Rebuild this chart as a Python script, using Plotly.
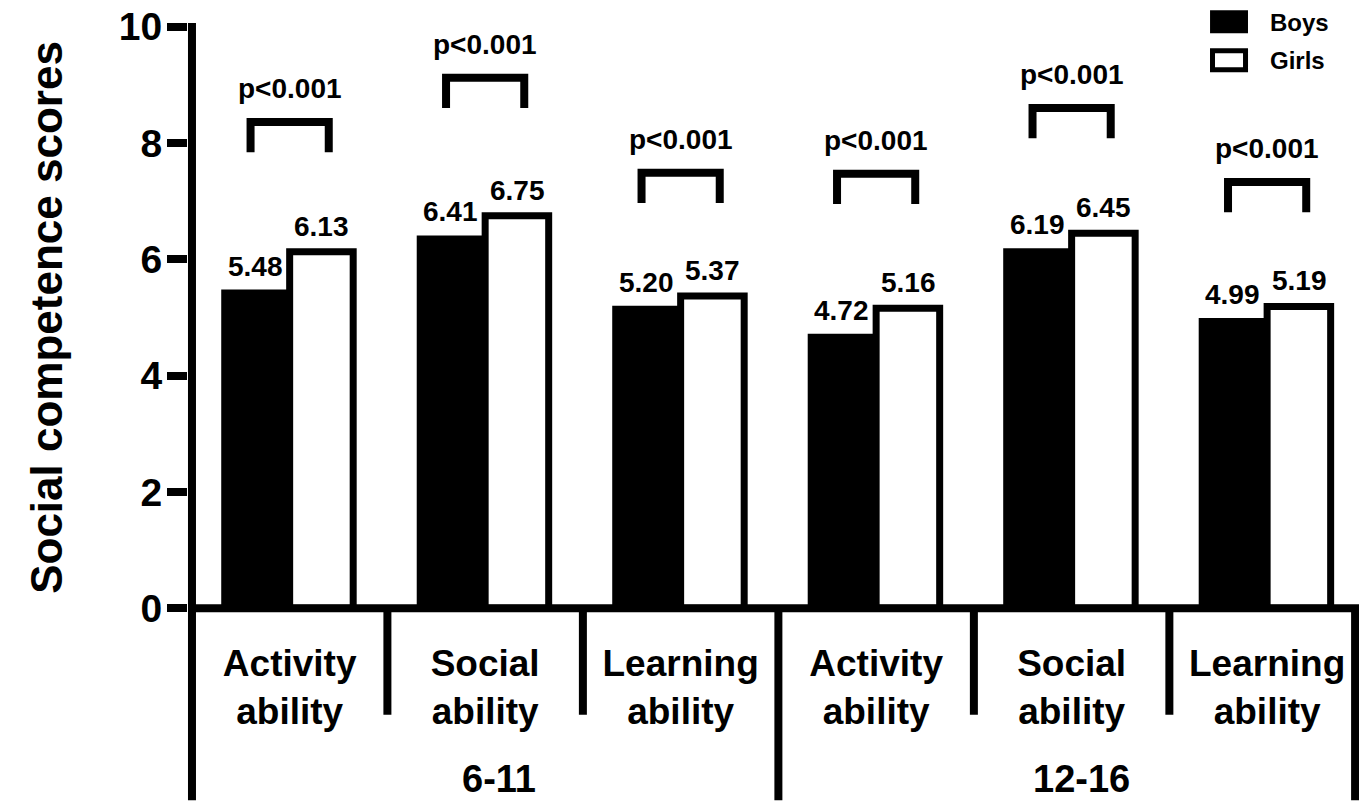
import plotly.graph_objects as go

# Social competence domains, split by age group
domains_top = ["Activity", "Social", "Learning", "Activity", "Social", "Learning"]
domains_bottom = ["ability", "ability", "ability", "ability", "ability", "ability"]
age_groups = ["6-11", "12-16"]

boys = [5.48, 6.41, 5.20, 4.72, 6.19, 4.99]
girls = [6.13, 6.75, 5.37, 5.16, 6.45, 5.19]

p_text = ["p<0.001"] * 6
bracket_top = [8.36, 9.12, 7.49, 7.47, 8.60, 7.33]

y_ticks = [0, 2, 4, 6, 8, 10]

FONT = "Liberation Sans, Arial, sans-serif"
YMIN, YMAX = -0.08, 10.08
XMIN, XMAX = -0.52, 5.47


def ypaper(v):
    return (v - YMIN) / (YMAX - YMIN)


xpos = list(range(len(boys)))

fig = go.Figure()
fig.add_trace(go.Bar(
    x=xpos, y=boys, name="Boys", offset=-0.35, width=0.35,
    marker=dict(color="black", line=dict(width=0)),
    hoverinfo="skip", showlegend=False,
))
fig.add_trace(go.Bar(
    x=xpos, y=girls, name="Girls", offset=0.0, width=0.325,
    marker=dict(color="white", line=dict(color="black", width=7)),
    hoverinfo="skip", showlegend=False,
))

# significance brackets
ARM = 0.52
for i, top in enumerate(bracket_top):
    fig.add_trace(go.Scatter(
        x=[i - 0.2, i - 0.2, i + 0.2, i + 0.2],
        y=[top - ARM, top, top, top - ARM],
        mode="lines", line=dict(color="black", width=8),
        hoverinfo="skip", showlegend=False,
    ))

annotations = []
for i, (b, g) in enumerate(zip(boys, girls)):
    annotations.append(dict(x=i - 0.175, y=b, xref="x", yref="y", text=f"{b:.2f}",
                            showarrow=False, yanchor="bottom", yshift=6,
                            font=dict(size=28)))
    annotations.append(dict(x=i + 0.165, y=g, xref="x", yref="y", text=f"{g:.2f}",
                            showarrow=False, yanchor="bottom", yshift=8,
                            font=dict(size=28)))
for i, (t, top) in enumerate(zip(p_text, bracket_top)):
    annotations.append(dict(x=i, y=top, xref="x", yref="y", text=t,
                            showarrow=False, yanchor="bottom", yshift=16,
                            font=dict(size=28)))

# age group labels
for label, xc in zip(age_groups, [1.07, 4.05]):
    annotations.append(dict(x=xc, y=ypaper(-2.93), xref="x", yref="paper", text=label,
                            showarrow=False, yanchor="middle", font=dict(size=38)))

# legend
annotations.append(dict(x=0.9223, y=ypaper(10.07), xref="paper", yref="paper", text="Boys",
                        showarrow=False, xanchor="left", yanchor="middle", font=dict(size=24)))
annotations.append(dict(x=0.9223, y=ypaper(9.42), xref="paper", yref="paper", text="Girls",
                        showarrow=False, xanchor="left", yanchor="middle", font=dict(size=24)))

shapes = []
line = dict(color="black", width=8)
# axis lines
shapes.append(dict(type="line", xref="paper", yref="paper", x0=0.0034, x1=0.0034,
                   y0=ypaper(10) + 0.006, y1=ypaper(-3.3), line=line))
shapes.append(dict(type="line", xref="x", yref="y", x0=XMIN, x1=XMAX, y0=0, y1=0, line=line))
# category dividers below the axis
for xd, long in [(0.5, False), (1.5, False), (2.5, True), (3.5, False), (4.5, False), (5.45, True)]:
    shapes.append(dict(type="line", xref="x", yref="paper", x0=xd, x1=xd,
                       y0=ypaper(0), y1=ypaper(-3.3) if long else ypaper(-1.83), line=line))
# legend swatches
shapes.append(dict(type="rect", xref="paper", yref="paper", x0=0.8728, x1=0.9052,
                   y0=ypaper(9.885), y1=ypaper(10.28), fillcolor="black", line=dict(width=0)))
shapes.append(dict(type="rect", xref="paper", yref="paper", x0=0.8749, x1=0.9031,
                   y0=ypaper(9.257), y1=ypaper(9.584), fillcolor="white",
                   line=dict(color="black", width=5)))

fig.update_layout(
    width=1359, height=807,
    margin=dict(l=188, r=0, t=22, b=194),
    plot_bgcolor="white", paper_bgcolor="white",
    font=dict(family=FONT, color="black", weight="bold"),
    barmode="overlay",
    annotations=annotations,
    shapes=shapes,
    xaxis=dict(
        range=[XMIN, XMAX], tickvals=xpos,
        ticktext=[f"{a}<br>{b}" for a, b in zip(domains_top, domains_bottom)],
        tickfont=dict(size=37), ticks="", showline=False, showgrid=False,
        zeroline=False, ticklabelstandoff=25,
    ),
    yaxis=dict(
        range=[YMIN, YMAX], tickvals=y_ticks, tickfont=dict(size=39),
        ticks="outside", ticklen=20, tickwidth=8, tickcolor="black",
        showline=False, showgrid=False, zeroline=False, ticklabelstandoff=-3,
        title=dict(text="Social competence scores", font=dict(size=44), standoff=42),
    ),
)

fig.write_html("out.html")
